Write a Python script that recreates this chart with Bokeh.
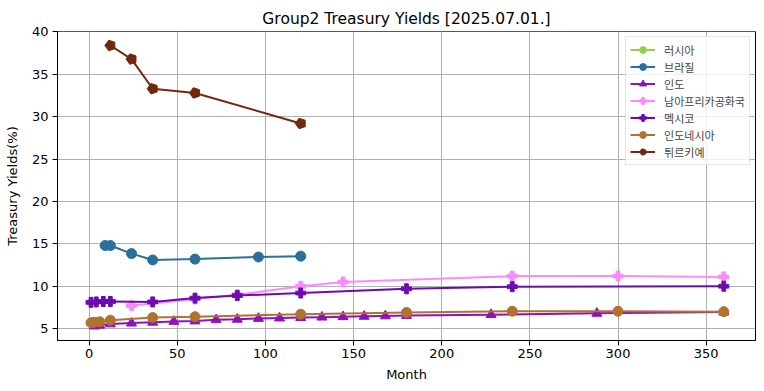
import math
from bokeh.plotting import figure
from bokeh.models import Legend, LegendItem, FixedTicker, Range1d
from bokeh.embed import file_html
from bokeh.resources import INLINE

# ---- data ----
title = "Group2 Treasury Yields [2025.07.01.]"
x_ticks = [0, 50, 100, 150, 200, 250, 300, 350]
y_ticks = [5, 10, 15, 20, 25, 30, 35, 40]

# Russia: no data drawn in the reference (legend entry only)
russia_m = []
russia_y = []

brazil_m = [9, 12, 24, 36, 60, 96, 120]
brazil_y = [14.8, 14.8, 13.85, 13.1, 13.2, 13.45, 13.55]

india_m = [3, 6, 12, 24, 36, 48, 60, 72, 84, 96, 108, 120, 132, 144, 156, 168, 180, 228, 288, 360]
india_y = [5.3, 5.4, 5.55, 5.65, 5.75, 5.85, 5.9, 6.05, 6.1, 6.2, 6.25, 6.3, 6.35, 6.4, 6.45,
           6.5, 6.55, 6.65, 6.8, 6.95]

sa_m = [24, 60, 84, 120, 144, 240, 300, 360]
sa_y = [7.7, 8.5, 9.0, 10.0, 10.5, 11.2, 11.2, 11.1]

mexico_m = [1, 4, 8, 12, 36, 60, 84, 120, 180, 240, 360]
mexico_y = [8.1, 8.15, 8.2, 8.2, 8.15, 8.6, 8.9, 9.2, 9.7, 9.95, 10.0]

indo_m = [1, 3, 6, 12, 36, 60, 120, 180, 240, 300, 360]
indo_y = [5.7, 5.75, 5.8, 6.0, 6.3, 6.4, 6.7, 6.9, 7.05, 7.05, 7.0]

turkey_m = [12, 24, 36, 60, 120]
turkey_y = [38.4, 36.8, 33.3, 32.8, 29.2]

series = [
    ("러시아", russia_m, russia_y, "#92d050", "circle"),
    ("브라질", brazil_m, brazil_y, "#2b6f9c", "circle"),
    ("인도", india_m, india_y, "#8a12bf", "triangle"),
    ("남아프리카공화국", sa_m, sa_y, "#fb8afb", "plus"),
    ("멕시코", mexico_m, mexico_y, "#6a0cae", "plus"),
    ("인도네시아", indo_m, indo_y, "#b2722f", "circle"),
    ("튀르키예", turkey_m, turkey_y, "#72290a", "pentagon"),
]

p = figure(width=764, height=391, output_backend="svg", toolbar_location=None,
           x_range=Range1d(-18, 378), y_range=Range1d(3.6, 40.05), title=title,
           min_border_left=57, min_border_right=9, min_border_top=31, min_border_bottom=51)

p.title.align = "center"
p.title.text_font = "DejaVu Sans"
p.title.text_font_size = "15.5px"
p.title.text_font_style = "normal"
p.title.text_color = "black"
p.title.standoff = 7

for ax in (p.xaxis, p.yaxis):
    ax.axis_label_text_font = "DejaVu Sans"
    ax.axis_label_text_font_size = "13px"
    ax.axis_label_text_font_style = "normal"
    ax.axis_label_text_color = "black"
    ax.major_label_text_font = "DejaVu Sans"
    ax.major_label_text_font_size = "13px"
    ax.major_label_text_color = "black"
    ax.axis_line_color = "black"
    ax.major_tick_line_color = "black"
    ax.minor_tick_line_color = None
    ax.major_tick_out = 5
    ax.major_tick_in = 0

p.xaxis.ticker = FixedTicker(ticks=x_ticks)
p.yaxis.ticker = FixedTicker(ticks=y_ticks)
p.xaxis.axis_label = "Month"
p.yaxis.axis_label = "Treasury Yields(%)"
p.xaxis.major_label_standoff = 3
p.yaxis.major_label_standoff = 4
p.xaxis.axis_label_standoff = 6
p.yaxis.axis_label_standoff = 9

p.xgrid.ticker = FixedTicker(ticks=x_ticks)
p.ygrid.ticker = FixedTicker(ticks=y_ticks)
p.grid.grid_line_color = "#b0b0b0"
p.grid.grid_line_width = 1
p.outline_line_color = "black"
p.outline_line_width = 1

items = []
for name, xs, ys, col, mk in series:
    if len(xs) == 0:
        xs, ys = [float("nan")], [float("nan")]
    lr = p.line(xs, ys, line_color=col, line_width=2)
    if mk == "pentagon":
        mr = p.ngon(x=xs, y=ys, radius=5.5, radius_units="screen", n=5, angle=math.pi / 2,
                    fill_color=col, line_color=col)
    else:
        size = {"circle": 10, "triangle": 10, "plus": 10}[mk]
        mr = p.scatter(xs, ys, marker=mk, size=size, fill_color=col, line_color=col)
    items.append(LegendItem(label=name, renderers=[lr, mr]))

legend = Legend(items=items, location="top_right")
legend.margin = 5
legend.padding = 4
legend.spacing = 0
legend.glyph_width = 25
legend.glyph_height = 17
legend.label_height = 17
legend.label_standoff = 9
legend.label_text_font = "Noto Sans CJK KR"
legend.label_text_font_size = "11px"
legend.border_line_color = "#cccccc"
legend.border_line_width = 1
legend.background_fill_alpha = 0.8
p.add_layout(legend, "center")

open("out.html", "w").write(file_html(p, INLINE))
